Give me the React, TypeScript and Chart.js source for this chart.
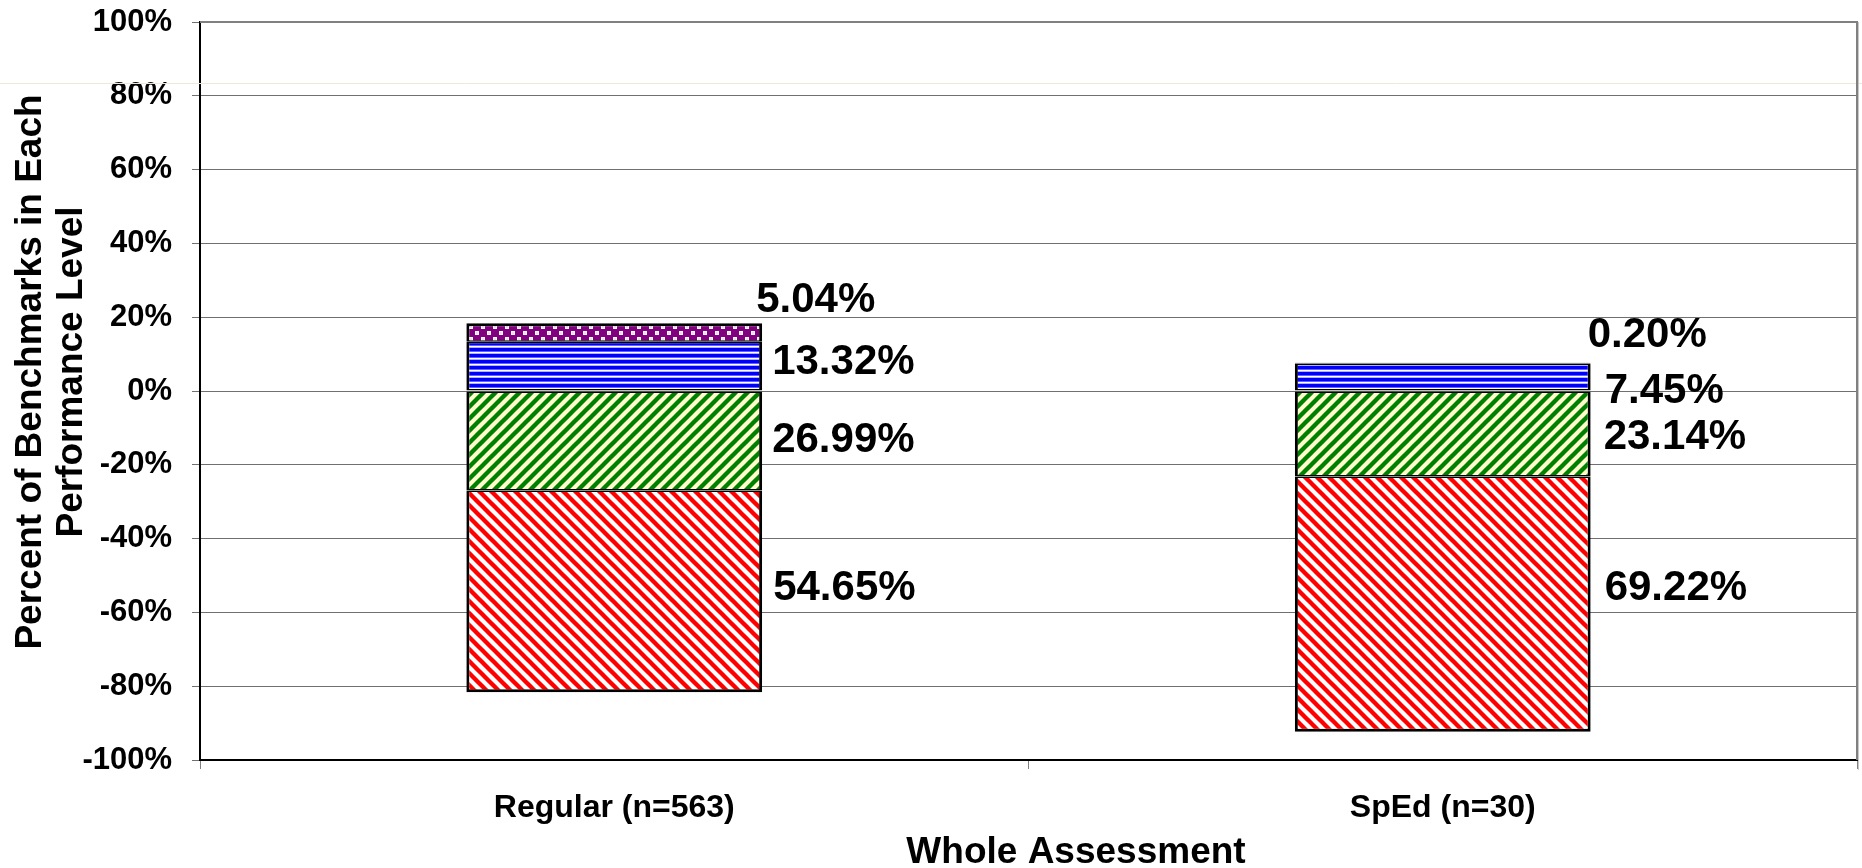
import React, { useEffect, useRef } from 'react';
import { Chart, registerables } from 'chart.js';

Chart.register(...registerables);

// ---------- data ----------
const categories = ['Regular (n=563)', 'SpEd (n=30)'];
const seriesNames = ['Level 2', 'Level 1', 'Level 3', 'Level 4'];
// lower levels are plotted below zero
const level1 = [54.65, 69.22]; // red
const level2 = [26.99, 23.14]; // green
const level3 = [13.32, 7.45]; // blue
const level4 = [5.04, 0.2]; // purple
const yAxisTitle = ['Percent of Benchmarks in Each', 'Performance Level'];
const xAxisTitle = 'Whole Assessment';

// ---------- styles ----------
const FONT = "'Liberation Sans', Arial, Helvetica, sans-serif";
// per dataset (stack order: level2, level1, level3, level4), per category: [dx, dy] in px
const LABEL_NUDGE: number[][][] = [
  [[10, -1], [13, 3]],
  [[11, -3], [14, -16]],
  [[10, -4], [14, 14]],
  [[-6, -32], [-3, -28]],
];
// border widths per dataset (screen edges) so shared edges are not doubled
const BORDERS = [
  { top: 1.5, bottom: 1.5, left: 3, right: 3 },
  { top: 1.5, bottom: 3, left: 3, right: 3 },
  { top: 1.5, bottom: 1.5, left: 3, right: 3 },
  { top: 3, bottom: 1.5, left: 3, right: 3 },
];

function makeTile(w: number, h: number, draw: (c: CanvasRenderingContext2D) => void): CanvasPattern | string {
  const cv = document.createElement('canvas');
  cv.width = w;
  cv.height = h;
  const c = cv.getContext('2d');
  if (!c) return '#888';
  draw(c);
  const p = c.createPattern(cv, 'repeat');
  return p || '#888';
}

function diagonal(bg: string, fg: string, down: boolean) {
  return makeTile(12, 12, (c) => {
    c.fillStyle = bg;
    c.fillRect(0, 0, 12, 12);
    c.strokeStyle = fg;
    c.lineWidth = 4.4;
    c.lineCap = 'square';
    for (const k of [-12, 0, 12]) {
      c.beginPath();
      if (down) {
        c.moveTo(k - 2, -2);
        c.lineTo(k + 14, 14);
      } else {
        c.moveTo(k - 2, 14);
        c.lineTo(k + 14, -2);
      }
      c.stroke();
    }
  });
}

function horizontal() {
  return makeTile(6, 6, (c) => {
    c.fillStyle = '#ffffff';
    c.fillRect(0, 0, 6, 6);
    c.fillStyle = '#0000ff';
    c.fillRect(0, 0, 6, 3);
    c.fillStyle = '#6060ff';
    c.fillRect(0, 3, 6, 1);
    c.fillStyle = '#b0b0ff';
    c.fillRect(0, 5, 6, 1);
  });
}

function dotted() {
  return makeTile(12, 12, (c) => {
    c.fillStyle = '#800080';
    c.fillRect(0, 0, 12, 12);
    c.fillStyle = '#ffffff';
    for (const [x, y] of [[3, 3], [9, 9]]) {
      c.fillRect(x - 2, y - 2, 4, 4);
    }
    c.fillStyle = '#b070b0';
    for (const [x, y] of [[3, 3], [9, 9]]) {
      c.fillRect(x - 0.5, y - 0.5, 1, 1);
    }
  });
}

const overlayPlugin = {
  id: 'overlay',
  afterDatasetsDraw(chart: any) {
    const ctx: CanvasRenderingContext2D = chart.ctx;
    const { left, right, top, bottom } = chart.chartArea;
    ctx.save();
    // faint artifact line across the picture
    ctx.strokeStyle = '#eee8d7';
    ctx.lineWidth = 1;
    ctx.beginPath();
    ctx.moveTo(0, 83.5);
    ctx.lineTo(chart.width, 83.5);
    ctx.stroke();
    // top / right border of plot area
    ctx.strokeStyle = '#808080';
    ctx.lineWidth = 2;
    ctx.beginPath();
    ctx.moveTo(left, top);
    ctx.lineTo(right, top);
    ctx.lineTo(right, bottom);
    ctx.stroke();
    ctx.strokeStyle = '#c8c8c8';
    ctx.lineWidth = 1;
    ctx.beginPath();
    ctx.moveTo(right + 1.5, top);
    ctx.lineTo(right + 1.5, bottom + 10);
    ctx.stroke();

    // data labels
    ctx.fillStyle = '#000';
    ctx.font = `bold 42px ${FONT}`;
    ctx.textAlign = 'left';
    ctx.textBaseline = 'middle';
    chart.data.datasets.forEach((ds: any, i: number) => {
      const meta = chart.getDatasetMeta(i);
      meta.data.forEach((el: any, j: number) => {
        const p = el.getProps(['x', 'y', 'base', 'width'], true);
        const n = LABEL_NUDGE[i][j];
        const x = p.x + p.width / 2 + n[0];
        const y = (p.y + p.base) / 2 + n[1];
        ctx.fillText(ds.raw[j].toFixed(2) + '%', x, y);
      });
    });

    // axis titles
    ctx.font = `bold 37px ${FONT}`;
    ctx.textAlign = 'center';
    ctx.fillText(xAxisTitle, 1076, 853);
    ctx.save();
    ctx.translate(0, 372);
    ctx.rotate(-Math.PI / 2);
    yAxisTitle.forEach((line, k) => {
      ctx.fillText(line, 0, 31 + k * 41);
    });
    ctx.restore();
    ctx.restore();
  },
};

export default function App() {
  const ref = useRef<HTMLCanvasElement | null>(null);

  useEffect(() => {
    if (!ref.current) return;
    const common = { borderColor: '#000000', borderSkipped: false as const };
    const chart = new Chart(ref.current, {
      type: 'bar',
      data: {
        labels: categories,
        datasets: [
          { label: seriesNames[0], data: level2.map((v) => -v), raw: level2, backgroundColor: diagonal('#ffffcc', '#008000', false), borderWidth: BORDERS[0], ...common } as any,
          { label: seriesNames[1], data: level1.map((v) => -v), raw: level1, backgroundColor: diagonal('#ffffff', '#ff0000', true), borderWidth: BORDERS[1], ...common } as any,
          { label: seriesNames[2], data: level3, raw: level3, backgroundColor: horizontal(), borderWidth: BORDERS[2], ...common } as any,
          { label: seriesNames[3], data: level4, raw: level4, backgroundColor: dotted(), borderWidth: BORDERS[3], ...common } as any,
        ],
      },
      options: {
        animation: false,
        responsive: false,
        devicePixelRatio: 1,
        layout: { padding: { top: 22, right: 5, left: 0, bottom: 0 } },
        datasets: { bar: { categoryPercentage: 1, barPercentage: 0.357 } },
        plugins: { legend: { display: false }, tooltip: { enabled: false }, title: { display: false } },
        scales: {
          x: {
            stacked: true,
            afterFit: (s: any) => { s.height = 108; s.paddingLeft = 0; s.paddingRight = 0; },
            grid: { offset: true, drawOnChartArea: false, drawTicks: true, tickLength: 9, color: '#808080' },
            border: { color: '#000000', width: 2 },
            ticks: { color: '#000', padding: 20, font: { family: FONT, size: 32, weight: 'bold' } },
          },
          y: {
            stacked: true,
            min: -100,
            max: 100,
            afterFit: (s: any) => { s.width = 200; s.paddingTop = 0; s.paddingBottom = 0; },
            grid: { color: '#707070', lineWidth: 1, tickLength: 8, tickColor: '#707070' },
            border: { color: '#000000', width: 2 },
            ticks: {
              stepSize: 20,
              color: '#000',
              padding: 20,
              font: { family: FONT, size: 31, weight: 'bold' },
              callback: (v: any) => `${v}%`,
            },
          },
        },
      } as any,
      plugins: [overlayPlugin],
    });
    return () => chart.destroy();
  }, []);

  return (
    <div style={{ position: 'absolute', left: 0, top: 0, width: 1862, height: 868, background: '#fff' }}>
      <canvas ref={ref} width={1862} height={868} style={{ display: 'block' }} />
    </div>
  );
}
